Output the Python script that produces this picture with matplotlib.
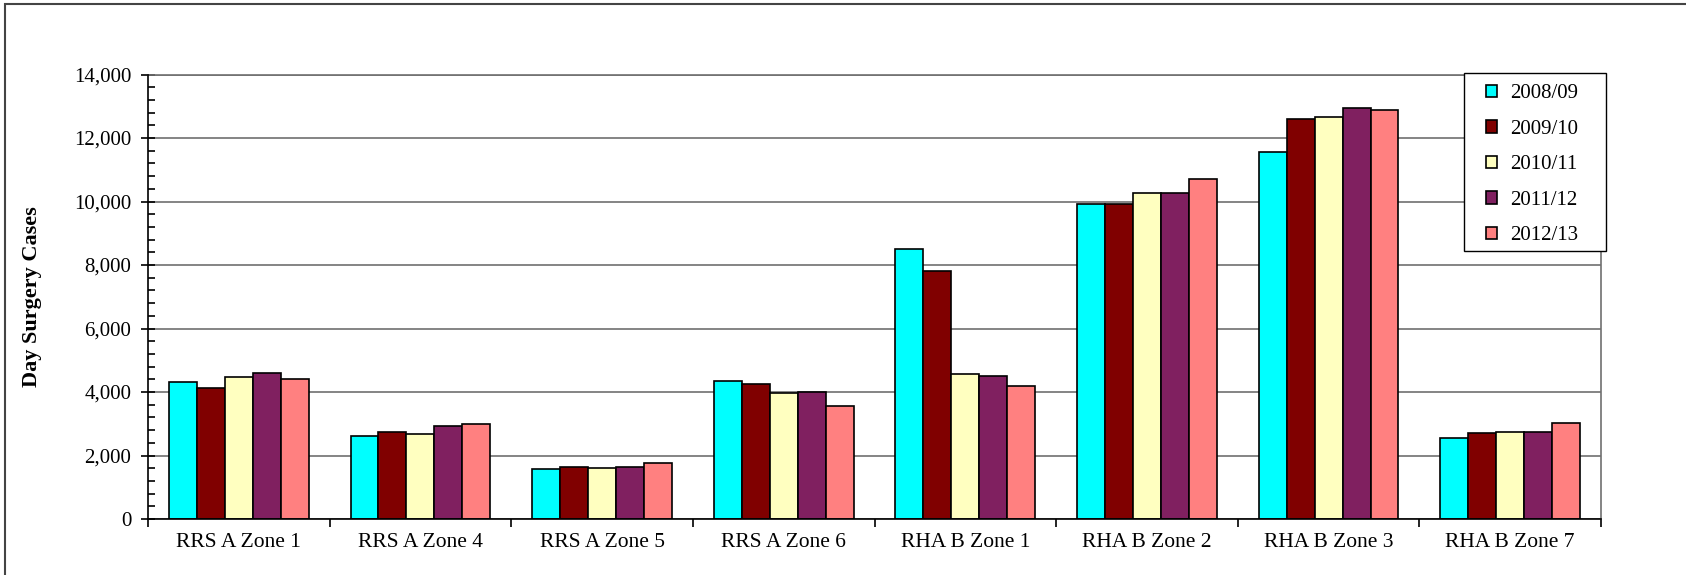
import numpy as np
import matplotlib
matplotlib.use("Agg")
import matplotlib.pyplot as plt
from matplotlib.patches import Rectangle
from matplotlib.ticker import FixedLocator, MultipleLocator, FuncFormatter

plt.rcParams['font.family'] = ['Liberation Serif', 'DejaVu Serif']

zones = ["RRS A Zone 1", "RRS A Zone 4", "RRS A Zone 5", "RRS A Zone 6",
         "RHA B Zone 1", "RHA B Zone 2", "RHA B Zone 3", "RHA B Zone 7"]
years = ["2008/09", "2009/10", "2010/11", "2011/12", "2012/13"]

cases_0809 = [4316, 2621, 1589, 4358, 8492, 9916, 11550, 2537]
cases_0910 = [4126, 2747, 1642, 4253, 7801, 9937, 12607, 2705]
cases_1011 = [4463, 2674, 1621, 3968, 4555, 10283, 12660, 2726]
cases_1112 = [4610, 2937, 1632, 3989, 4492, 10262, 12942, 2747]
cases_1213 = [4421, 2979, 1758, 3568, 4199, 10702, 12869, 3011]

series = [cases_0809, cases_0910, cases_1011, cases_1112, cases_1213]
colors = ["#00FFFF", "#800000", "#FFFFC0", "#802060", "#FF8080"]

W, H = 1686, 575
fig = plt.figure(figsize=(W / 100, H / 100), dpi=100)

# outer chart frame (runs off right/bottom edge like the source)
fig.patches.append(Rectangle((5 / W, -0.05), 1.2, 1 - 4 / H + 0.05,
                             transform=fig.transFigure, fill=False,
                             edgecolor="#444444", linewidth=1.5))

left, right, top, bottom = 148, 1601, 74.5, 519
ax = fig.add_axes([left / W, (H - bottom) / H, (right - left) / W, (bottom - top) / H])

x = np.arange(len(zones))
bw = 0.154
bars = []
for i, (vals, c, lab) in enumerate(zip(series, colors, years)):
    b = ax.bar(x + (i - 2) * bw, vals, bw, color=c, edgecolor="black",
               linewidth=1.2, label=lab, zorder=3)
    bars.append(b)

ax.set_xlim(-0.5, len(zones) - 0.5)
ax.set_ylim(0, 14000)

ax.yaxis.set_major_locator(MultipleLocator(2000))
ax.yaxis.set_minor_locator(MultipleLocator(400))
ax.yaxis.set_major_formatter(FuncFormatter(lambda v, p: f"{int(v):,}"))
ax.yaxis.grid(True, which="major", color="#707070", linewidth=1.2, zorder=0)
ax.tick_params(axis="y", which="major", direction="inout", length=10, width=1.2,
               labelsize=15, pad=7)
ax.tick_params(axis="y", which="minor", direction="in", length=5, width=1.2)

ax.set_xticks(x)
ax.set_xticklabels(zones)
ax.xaxis.set_minor_locator(FixedLocator(np.arange(-0.5, len(zones), 1.0)))
ax.tick_params(axis="x", which="major", length=0, labelsize=15.5, pad=10)
ax.tick_params(axis="x", which="minor", direction="out", length=6, width=1.2)

for s in ["left", "bottom"]:
    ax.spines[s].set_color("black")
    ax.spines[s].set_linewidth(1.2)
    ax.spines[s].set_zorder(4)
for s in ["top", "right"]:
    ax.spines[s].set_color("#707070")
    ax.spines[s].set_linewidth(1.2)

fig.text(32 / W, (H - (top + bottom) / 2) / H, "Day Surgery Cases", rotation=90,
         ha="center", va="center", fontsize=16, fontweight="bold")

# legend box drawn separately so its padding can match the source
lx0, lx1, ly0, ly1 = 1464, 1606, 73, 251
box = Rectangle((lx0 / W, (H - ly1) / H), (lx1 - lx0) / W, (ly1 - ly0) / H,
                transform=fig.transFigure, facecolor="white", edgecolor="black",
                linewidth=1.0, zorder=5)
fig.patches.append(box)

leg = fig.legend(bars, years, loc="upper left", bbox_to_anchor=(1485.5 / W, (H - 84.5) / H),
                 bbox_transform=fig.transFigure, borderaxespad=0, borderpad=0,
                 fontsize=15, handlelength=0.55, handleheight=0.55, handletextpad=0.64,
                 labelspacing=0.79, frameon=False)
leg.set_zorder(6)

fig.savefig("out.png", dpi=100)
